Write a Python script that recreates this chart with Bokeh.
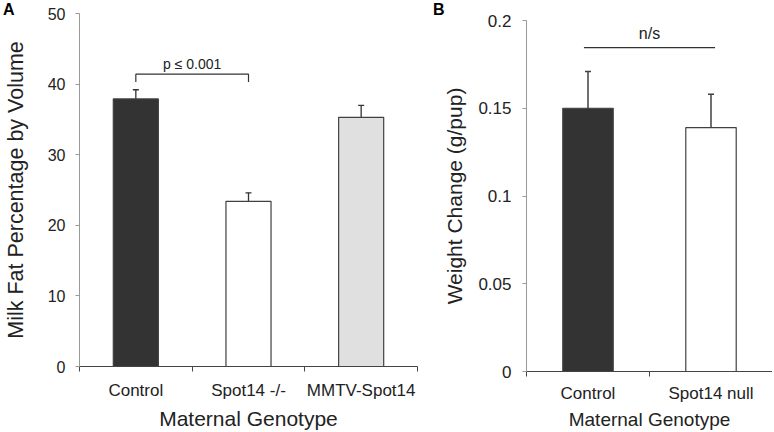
from bokeh.plotting import figure
from bokeh.layouts import row
from bokeh.models import (ColumnDataSource, FixedTicker, Whisker, TeeHead, Label,
                          NumeralTickFormatter, Range1d, Div, GridBox)
from bokeh.embed import file_html
from bokeh.resources import INLINE

FONT = "Liberation Sans"

# ---------------- data ----------------
cats_a = ["Control", "Spot14 -/-", "MMTV-Spot14"]
fat_a = [37.9, 23.4, 35.3]
err_a = [1.3, 1.2, 1.7]
fill_a = ["#333333", "#ffffff", "#e0e0e0"]
yticks_a = [0, 10, 20, 30, 40, 50]
bracket_a_y = 41.4
bracket_a_drop = 1.1
p_text_a = "p \u2264 0.001"
p_text_a_y = 42.9

cats_b = ["Control", "Spot14 null"]
wt_b = [0.150, 0.139]
err_b = [0.021, 0.019]
fill_b = ["#333333", "#ffffff"]
yticks_b = [0, 0.05, 0.1, 0.15, 0.2]
ns_line_b_y = 0.1845
ns_text_b = "n/s"
ns_text_b_y = 0.1924

H = 432


def style_axes(p, n, labels, tick_font, lab_standoff, title_font, title_standoff,
               ytick_font, ylab_standoff, ytitle_font, ytitle_standoff):
    ticker = FixedTicker(ticks=[i + 0.5 for i in range(n)],
                         minor_ticks=list(range(n + 1)))
    xa = p.xaxis[0]
    xa.ticker = ticker
    xa.major_label_overrides = {i + 0.5: lab for i, lab in enumerate(labels)}
    xa.major_tick_line_color = None
    xa.major_tick_out = 0
    xa.major_tick_in = 0
    xa.minor_tick_out = 5
    xa.minor_tick_in = 0
    xa.minor_tick_line_color = "#444444"
    xa.axis_line_color = "#444444"
    xa.major_label_text_font = FONT
    xa.major_label_text_font_size = tick_font
    xa.major_label_text_color = "#222222"
    xa.major_label_standoff = lab_standoff
    xa.axis_label_text_font = FONT
    xa.axis_label_text_font_size = title_font
    xa.axis_label_text_font_style = "normal"
    xa.axis_label_text_color = "#222222"
    xa.axis_label_standoff = title_standoff

    ya = p.yaxis[0]
    ya.axis_line_color = "#999999"
    ya.major_tick_line_color = "#999999"
    ya.major_tick_out = 4
    ya.major_tick_in = 0
    ya.minor_tick_line_color = None
    ya.major_label_text_font = FONT
    ya.major_label_text_font_size = ytick_font
    ya.major_label_text_color = "#222222"
    ya.major_label_standoff = ylab_standoff
    ya.axis_label_text_font = FONT
    ya.axis_label_text_font_size = ytitle_font
    ya.axis_label_text_font_style = "normal"
    ya.axis_label_text_color = "#222222"
    ya.axis_label_standoff = ytitle_standoff

    p.xgrid.visible = False
    p.ygrid.visible = False
    p.outline_line_color = None
    p.background_fill_color = "white"
    p.border_fill_color = "white"


def panel_letter(text, left_px):
    return Div(text=text, margin=(0, 0, 0, 0),
               styles={"font-family": FONT, "font-weight": "bold", "font-size": "16px",
                       "color": "black", "line-height": "1", "padding-top": "2px",
                       "padding-left": f"{left_px}px"})


# ---------------- panel A ----------------
pa = figure(width=426, height=H, output_backend="svg", toolbar_location=None,
            x_range=Range1d(0, len(cats_a)), y_range=Range1d(0, 50),
            min_border_left=76, min_border_right=9, min_border_top=13, min_border_bottom=65)
xa_pos = [i + 0.5 for i in range(len(cats_a))]
src_a = ColumnDataSource(dict(x=xa_pos, top=fat_a, fill=fill_a,
                              upper=[v + e for v, e in zip(fat_a, err_a)],
                              lower=[v - e for v, e in zip(fat_a, err_a)]))
pa.vbar(x="x", top="top", bottom=0, width=0.4, source=src_a, fill_color="fill",
        line_color="#404040", line_width=1.2)
pa.add_layout(Whisker(source=src_a, base="x", upper="upper", lower="lower",
                      line_color="#333333", line_width=1.3,
                      upper_head=TeeHead(size=6, line_color="#333333", line_width=1.3),
                      lower_head=TeeHead(size=6, line_color="#333333", line_width=1.3)))
pa.line(x=[xa_pos[0], xa_pos[0], xa_pos[1], xa_pos[1]],
        y=[bracket_a_y - bracket_a_drop, bracket_a_y, bracket_a_y, bracket_a_y - bracket_a_drop],
        line_color="#333333", line_width=1.2)
pa.add_layout(Label(x=(xa_pos[0] + xa_pos[1]) / 2, y=p_text_a_y, text=p_text_a,
                    text_align="center", text_baseline="middle", text_font=FONT,
                    text_font_size="14px", text_color="#222222"))
pa.yaxis[0].ticker = FixedTicker(ticks=yticks_a)
pa.yaxis[0].axis_label = "Milk Fat Percentage by Volume"
pa.xaxis[0].axis_label = "Maternal Genotype"
style_axes(pa, len(cats_a), cats_a, "17px", 9, "21px", 4, "16px", 10, "21.5px", 17)
panel_a = GridBox(children=[(pa, 0, 0), (panel_letter("A", 3), 0, 0)], spacing=0)

# ---------------- panel B ----------------
pb = figure(width=346, height=H, output_backend="svg", toolbar_location=None,
            x_range=Range1d(0, len(cats_b)), y_range=Range1d(0, 0.2),
            min_border_left=100, min_border_right=0, min_border_top=20, min_border_bottom=61)
xb_pos = [i + 0.5 for i in range(len(cats_b))]
src_b = ColumnDataSource(dict(x=xb_pos, top=wt_b, fill=fill_b,
                              upper=[v + e for v, e in zip(wt_b, err_b)],
                              lower=[v - e for v, e in zip(wt_b, err_b)]))
pb.vbar(x="x", top="top", bottom=0, width=0.41, source=src_b, fill_color="fill",
        line_color="#404040", line_width=1.2)
pb.add_layout(Whisker(source=src_b, base="x", upper="upper", lower="lower",
                      line_color="#404040", line_width=1.5,
                      upper_head=TeeHead(size=6, line_color="#404040", line_width=1.5),
                      lower_head=TeeHead(size=6, line_color="#404040", line_width=1.5)))
pb.line(x=[xb_pos[0] - 0.033, xb_pos[1] + 0.033], y=[ns_line_b_y, ns_line_b_y],
        line_color="#333333", line_width=1.2)
pb.add_layout(Label(x=(xb_pos[0] + xb_pos[1]) / 2, y=ns_text_b_y, text=ns_text_b,
                    text_align="center", text_baseline="middle", text_font=FONT,
                    text_font_size="16px", text_color="#222222"))
pb.yaxis[0].ticker = FixedTicker(ticks=yticks_b)
pb.yaxis[0].formatter = NumeralTickFormatter(format="0.[00]")
pb.yaxis[0].axis_label = "Weight Change (g/pup)"
pb.xaxis[0].axis_label = "Maternal Genotype"
style_axes(pb, len(cats_b), cats_b, "17px", 7, "19px", 3, "17px", 11, "21px", 9)
panel_b = GridBox(children=[(pb, 0, 0), (panel_letter("B", 7), 0, 0)], spacing=0)

layout = row(panel_a, panel_b, spacing=0)
open("out.html", "w").write(file_html(layout, INLINE))
